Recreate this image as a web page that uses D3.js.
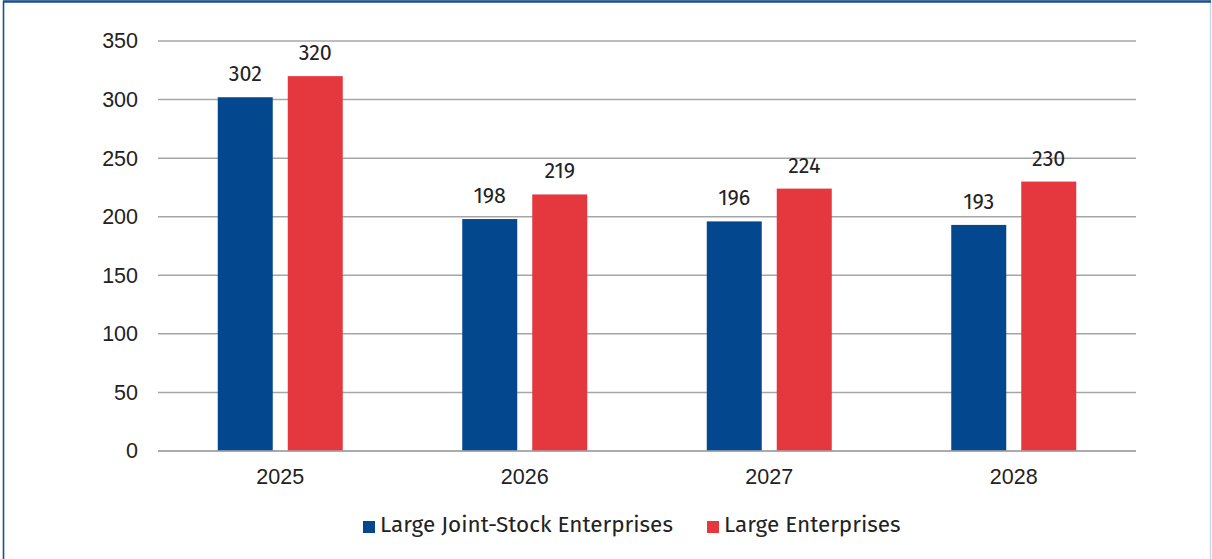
<!DOCTYPE html>
<html>
<head>
<meta charset="utf-8">
<script src="https://cdn.jsdelivr.net/npm/d3@7"></script>
<style>
  html, body { margin: 0; padding: 0; background: #fff; }
  svg { display: block; font-family: "Fira Sans", "Noto Sans", "Open Sans", sans-serif; }
</style>
</head>
<body>
<svg id="chart" width="1212" height="559"></svg>
<script>
const years = ["2025", "2026", "2027", "2028"];
const seriesNames = ["Large Joint-Stock Enterprises", "Large Enterprises"];
const jointStock = [302, 198, 196, 193];
const largeEnt = [320, 219, 224, 230];
const yTicks = [0, 50, 100, 150, 200, 250, 300, 350];
const colors = ["#03478f", "#e4373e"];

(function draw() {
  const svg = d3.select("#chart");
  const H = 559;
  const fs = 21.5;

  // frame
  svg.append("rect").attr("x", 3.5).attr("y", 1).attr("width", 1207).attr("height", 580)
    .attr("fill", "#fff").attr("stroke", "#c9d6e6").attr("stroke-width", 1.5);
  svg.append("line").attr("x1", 3).attr("x2", 1211).attr("y1", 1.5).attr("y2", 1.5)
    .attr("stroke", "#1d4e8c").attr("stroke-width", 2.5);
  svg.append("line").attr("x1", 3.5).attr("x2", 3.5).attr("y1", 1).attr("y2", H)
    .attr("stroke", "#1d4e8c").attr("stroke-width", 1.5);

  const mLeft = 158, mRight = 1136, mTop = 41, mBottom = 451;

  const x = d3.scaleBand().domain(years).range([mLeft, mRight]);
  const inner = d3.scaleBand().domain([0, 1]).range([0, 125]).paddingInner(15 / 70);
  const y = d3.scaleLinear().domain([0, 350]).range([mBottom, mTop]);

  // gridlines
  svg.append("g").selectAll("line").data(yTicks).join("line")
    .attr("x1", mLeft).attr("x2", mRight)
    .attr("y1", d => y(d)).attr("y2", d => y(d))
    .attr("stroke", "#a6a6a6").attr("stroke-width", 1.5);

  // y axis labels
  const yAxis = svg.append("g").attr("transform", `translate(${mLeft - 20},0)`)
    .call(d3.axisLeft(y).tickValues(yTicks).tickSize(0).tickPadding(0));
  yAxis.select(".domain").remove();
  yAxis.selectAll("text").attr("font-size", fs).attr("fill", "#222").attr("font-family", null);

  // bars with value labels
  const series = [jointStock, largeEnt];
  series.forEach((vals, si) => {
    const g = svg.append("g");
    const bx = d => x(d) + x.bandwidth() / 2 - 62.5 + inner(si);
    g.selectAll("rect").data(years).join("rect")
      .attr("x", bx)
      .attr("width", inner.bandwidth())
      .attr("y", (d, i) => y(vals[i]))
      .attr("height", (d, i) => mBottom - y(vals[i]))
      .attr("fill", colors[si]);
    g.selectAll("text").data(years).join("text")
      .attr("x", d => bx(d) + inner.bandwidth() / 2)
      .attr("y", (d, i) => y(vals[i]) - 16)
      .attr("text-anchor", "middle")
      .attr("font-size", fs).attr("fill", "#222")
      .text((d, i) => vals[i]);
  });

  // baseline
  svg.append("line").attr("x1", mLeft).attr("x2", mRight).attr("y1", mBottom).attr("y2", mBottom)
    .attr("stroke", "#a6a6a6").attr("stroke-width", 1.5);

  // x axis labels
  const xAxis = svg.append("g").attr("transform", `translate(0,${mBottom})`)
    .call(d3.axisBottom(x).tickSize(0).tickPadding(18));
  xAxis.select(".domain").remove();
  xAxis.selectAll("text").attr("font-size", fs).attr("fill", "#222").attr("font-family", null);

  // legend
  const legendItems = [{ name: seriesNames[0], x: 363 }, { name: seriesNames[1], x: 707 }];
  const lg = svg.append("g");
  legendItems.forEach((it, i) => {
    lg.append("rect").attr("x", it.x).attr("y", 521).attr("width", 12).attr("height", 12).attr("fill", colors[i]);
    lg.append("text").attr("x", it.x + 17).attr("y", 532).attr("font-size", 22.5).attr("fill", "#222").text(it.name);
  });
})();
</script>
</body>
</html>
